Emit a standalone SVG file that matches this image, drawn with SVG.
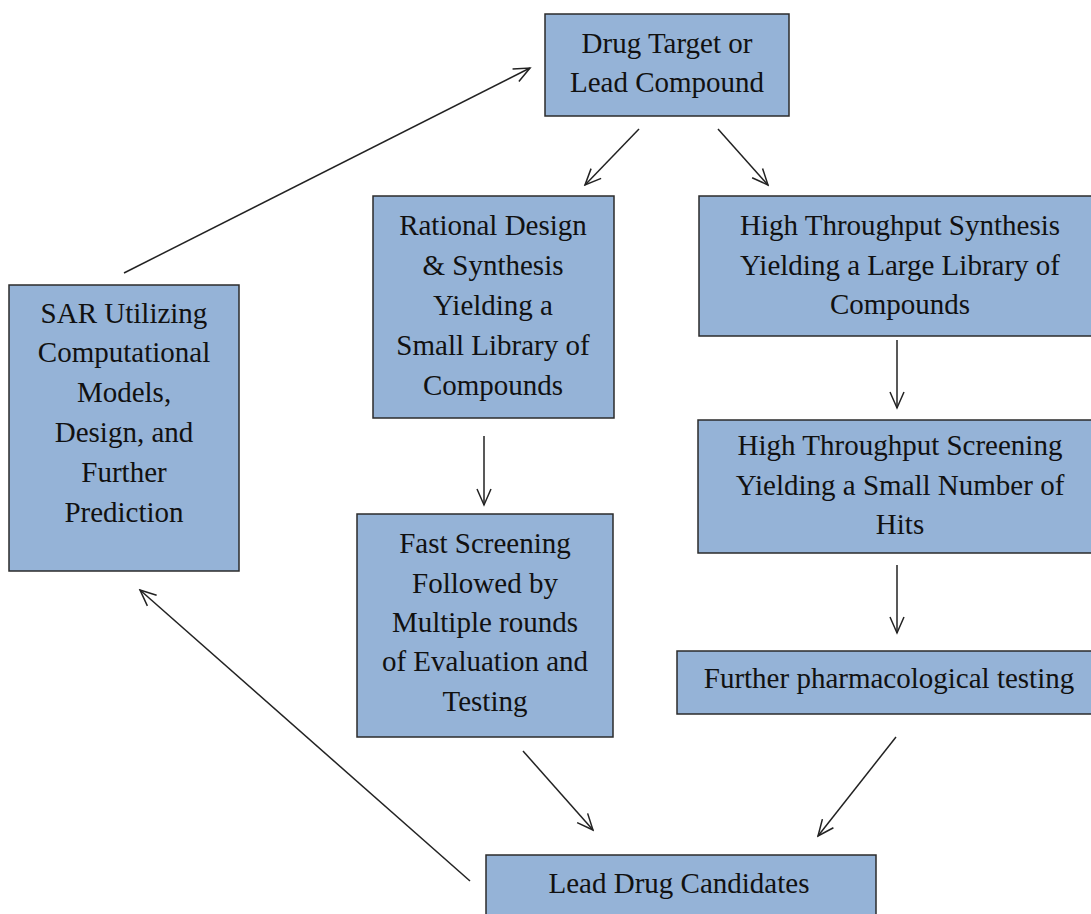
<svg xmlns="http://www.w3.org/2000/svg" width="1091" height="914" viewBox="0 0 1091 914">
<style>
.box{fill:#95b3d7;stroke:#2b2b2b;stroke-width:1.5}
.t{font-family:"Liberation Serif","Times New Roman",serif;font-size:29px;fill:#111;text-anchor:middle}
.c{stroke:#222;stroke-width:1.5;fill:none;marker-end:url(#ah)}
</style>
<defs>
<marker id="ah" viewBox="0 0 20 20" refX="18" refY="10" markerWidth="20" markerHeight="20" markerUnits="userSpaceOnUse" orient="auto">
<path d="M2,3 L18,10 L2,17" fill="none" stroke="#222" stroke-width="1.5"/>
</marker>
</defs>
<rect width="1091" height="914" fill="#fff"/>
<g id="connectors">
<line class="c" x1="639" y1="129" x2="585" y2="185"/>
<line class="c" x1="718" y1="129" x2="768" y2="185"/>
<line class="c" x1="484" y1="436" x2="484" y2="505"/>
<line class="c" x1="897" y1="340" x2="897" y2="408"/>
<line class="c" x1="897" y1="565" x2="897" y2="633"/>
<line class="c" x1="896" y1="737" x2="818" y2="836"/>
<line class="c" x1="523" y1="751" x2="593" y2="830"/>
<line class="c" x1="470" y1="881" x2="140" y2="590"/>
<line class="c" x1="124" y1="273" x2="530" y2="68"/>
</g>
<g id="drug-target">
<rect class="box" x="545" y="14" width="244" height="102"/>
<text class="t" x="667" y="53">Drug Target or</text>
<text class="t" x="667" y="92">Lead Compound</text>
</g>
<g id="rational-design">
<rect class="box" x="373" y="196" width="241" height="222"/>
<text class="t" x="493" y="235">Rational Design</text>
<text class="t" x="493" y="275">&amp; Synthesis</text>
<text class="t" x="493" y="315">Yielding a</text>
<text class="t" x="493" y="355">Small Library of</text>
<text class="t" x="493" y="395">Compounds</text>
</g>
<g id="ht-synthesis">
<rect class="box" x="699" y="196" width="395" height="140"/>
<text class="t" x="900" y="235">High Throughput Synthesis</text>
<text class="t" x="900" y="275">Yielding a Large Library of</text>
<text class="t" x="900" y="314">Compounds</text>
</g>
<g id="sar">
<rect class="box" x="9" y="285" width="230" height="286"/>
<text class="t" x="124" y="323">SAR Utilizing</text>
<text class="t" x="124" y="362">Computational</text>
<text class="t" x="124" y="402">Models,</text>
<text class="t" x="124" y="442">Design, and</text>
<text class="t" x="124" y="482">Further</text>
<text class="t" x="124" y="522">Prediction</text>
</g>
<g id="ht-screening">
<rect class="box" x="698" y="420" width="396" height="133"/>
<text class="t" x="900" y="455">High Throughput Screening</text>
<text class="t" x="900" y="495">Yielding a Small Number of</text>
<text class="t" x="900" y="534">Hits</text>
</g>
<g id="fast-screening">
<rect class="box" x="357" y="514" width="256" height="223"/>
<text class="t" x="485" y="553">Fast Screening</text>
<text class="t" x="485" y="593">Followed by</text>
<text class="t" x="485" y="632">Multiple rounds</text>
<text class="t" x="485" y="671">of Evaluation and</text>
<text class="t" x="485" y="711">Testing</text>
</g>
<g id="further-testing">
<rect class="box" x="677" y="651" width="418" height="63"/>
<text class="t" x="889" y="688">Further pharmacological testing</text>
</g>
<g id="lead-candidates">
<rect class="box" x="486" y="855" width="390" height="70"/>
<text class="t" x="679" y="893">Lead Drug Candidates</text>
</g>
</svg>
